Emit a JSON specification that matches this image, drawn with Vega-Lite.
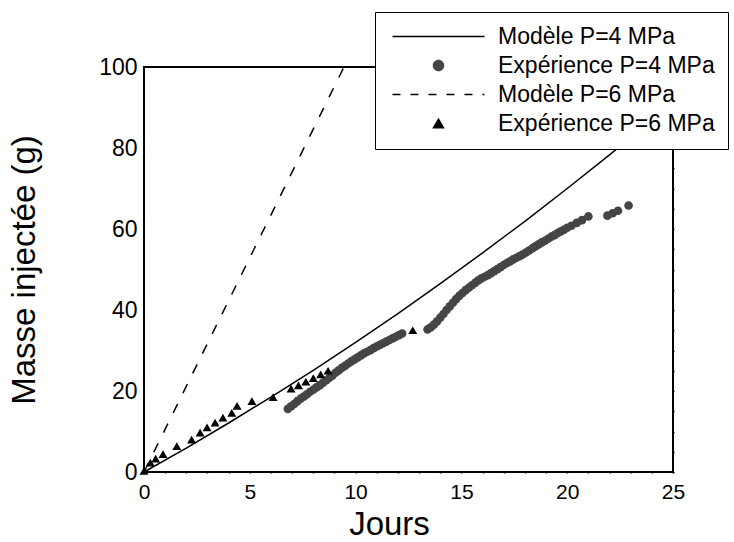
{
  "$schema": "https://vega.github.io/schema/vega-lite/v6.json",
  "width": 529,
  "height": 405,
  "autosize": {"type": "none"},
  "padding": {"left": 144, "top": 67, "right": 61, "bottom": 70},
  "background": "white",
  "config": {
    "view": {"stroke": "black", "strokeWidth": 2},
    "font": "Liberation Sans",
    "axis": {"domain": false, "grid": false, "ticks": true, "tickSize": 1, "tickColor": "black", "tickWidth": 1.5, "tickOpacity": 1, "labelColor": "black", "titleColor": "black", "titleFontWeight": "normal", "labelFont": "Liberation Sans", "titleFont": "Liberation Sans", "labelOverlap": false, "labelFlush": false}
  },
  "datasets": {
    "m4": [
      {"jours": 0, "masse": 0, "serie": "Modèle P=4 MPa"},
      {"jours": 2, "masse": 5.9, "serie": "Modèle P=4 MPa"},
      {"jours": 4, "masse": 12.1, "serie": "Modèle P=4 MPa"},
      {"jours": 6, "masse": 18.5, "serie": "Modèle P=4 MPa"},
      {"jours": 8, "masse": 25.1, "serie": "Modèle P=4 MPa"},
      {"jours": 10, "masse": 32.0, "serie": "Modèle P=4 MPa"},
      {"jours": 12, "masse": 39.1, "serie": "Modèle P=4 MPa"},
      {"jours": 14, "masse": 46.5, "serie": "Modèle P=4 MPa"},
      {"jours": 16, "masse": 54.1, "serie": "Modèle P=4 MPa"},
      {"jours": 18, "masse": 61.9, "serie": "Modèle P=4 MPa"},
      {"jours": 20, "masse": 70.0, "serie": "Modèle P=4 MPa"},
      {"jours": 22, "masse": 78.3, "serie": "Modèle P=4 MPa"},
      {"jours": 24, "masse": 86.9, "serie": "Modèle P=4 MPa"}
    ],
    "m6": [
      {"jours": 0, "masse": 0, "serie": "Modèle P=6 MPa"},
      {"jours": 9.45, "masse": 100, "serie": "Modèle P=6 MPa"}
    ],
    "e6": [
      {"jours": 0.0, "masse": 0.3, "serie": "Expérience P=6 MPa"},
      {"jours": 0.3, "masse": 2.3, "serie": "Expérience P=6 MPa"},
      {"jours": 0.55, "masse": 3.3, "serie": "Expérience P=6 MPa"},
      {"jours": 0.9, "masse": 4.4, "serie": "Expérience P=6 MPa"},
      {"jours": 1.55, "masse": 6.4, "serie": "Expérience P=6 MPa"},
      {"jours": 2.25, "masse": 8.0, "serie": "Expérience P=6 MPa"},
      {"jours": 2.65, "masse": 9.7, "serie": "Expérience P=6 MPa"},
      {"jours": 2.98, "masse": 11.0, "serie": "Expérience P=6 MPa"},
      {"jours": 3.36, "masse": 12.2, "serie": "Expérience P=6 MPa"},
      {"jours": 3.73, "masse": 13.4, "serie": "Expérience P=6 MPa"},
      {"jours": 4.15, "masse": 14.6, "serie": "Expérience P=6 MPa"},
      {"jours": 4.4, "masse": 16.3, "serie": "Expérience P=6 MPa"},
      {"jours": 5.1, "masse": 17.5, "serie": "Expérience P=6 MPa"},
      {"jours": 6.1, "masse": 18.5, "serie": "Expérience P=6 MPa"},
      {"jours": 6.95, "masse": 20.6, "serie": "Expérience P=6 MPa"},
      {"jours": 7.3, "masse": 21.4, "serie": "Expérience P=6 MPa"},
      {"jours": 7.65, "masse": 22.3, "serie": "Expérience P=6 MPa"},
      {"jours": 8.0, "masse": 23.2, "serie": "Expérience P=6 MPa"},
      {"jours": 8.35, "masse": 24.1, "serie": "Expérience P=6 MPa"},
      {"jours": 8.7, "masse": 25.0, "serie": "Expérience P=6 MPa"},
      {"jours": 12.7, "masse": 35.0, "serie": "Expérience P=6 MPa"}
    ],
    "e4": [
      {"jours": 6.8, "masse": 15.6, "serie": "Expérience P=4 MPa"},
      {"jours": 6.95, "masse": 16.2, "serie": "Expérience P=4 MPa"},
      {"jours": 7.1, "masse": 16.8, "serie": "Expérience P=4 MPa"},
      {"jours": 7.25, "masse": 17.5, "serie": "Expérience P=4 MPa"},
      {"jours": 7.4, "masse": 18.1, "serie": "Expérience P=4 MPa"},
      {"jours": 7.55, "masse": 18.6, "serie": "Expérience P=4 MPa"},
      {"jours": 7.7, "masse": 19.2, "serie": "Expérience P=4 MPa"},
      {"jours": 7.85, "masse": 19.8, "serie": "Expérience P=4 MPa"},
      {"jours": 8.0, "masse": 20.3, "serie": "Expérience P=4 MPa"},
      {"jours": 8.15, "masse": 20.9, "serie": "Expérience P=4 MPa"},
      {"jours": 8.3, "masse": 21.4, "serie": "Expérience P=4 MPa"},
      {"jours": 8.45, "masse": 22.0, "serie": "Expérience P=4 MPa"},
      {"jours": 8.6, "masse": 22.6, "serie": "Expérience P=4 MPa"},
      {"jours": 8.75, "masse": 23.2, "serie": "Expérience P=4 MPa"},
      {"jours": 8.9, "masse": 23.8, "serie": "Expérience P=4 MPa"},
      {"jours": 9.05, "masse": 24.5, "serie": "Expérience P=4 MPa"},
      {"jours": 9.2, "masse": 25.1, "serie": "Expérience P=4 MPa"},
      {"jours": 9.35, "masse": 25.7, "serie": "Expérience P=4 MPa"},
      {"jours": 9.5, "masse": 26.2, "serie": "Expérience P=4 MPa"},
      {"jours": 9.65, "masse": 26.8, "serie": "Expérience P=4 MPa"},
      {"jours": 9.8, "masse": 27.3, "serie": "Expérience P=4 MPa"},
      {"jours": 9.95, "masse": 27.8, "serie": "Expérience P=4 MPa"},
      {"jours": 10.1, "masse": 28.3, "serie": "Expérience P=4 MPa"},
      {"jours": 10.25, "masse": 28.8, "serie": "Expérience P=4 MPa"},
      {"jours": 10.4, "masse": 29.3, "serie": "Expérience P=4 MPa"},
      {"jours": 10.55, "masse": 29.7, "serie": "Expérience P=4 MPa"},
      {"jours": 10.7, "masse": 30.1, "serie": "Expérience P=4 MPa"},
      {"jours": 10.85, "masse": 30.6, "serie": "Expérience P=4 MPa"},
      {"jours": 11.0, "masse": 31.0, "serie": "Expérience P=4 MPa"},
      {"jours": 11.15, "masse": 31.4, "serie": "Expérience P=4 MPa"},
      {"jours": 11.3, "masse": 31.8, "serie": "Expérience P=4 MPa"},
      {"jours": 11.45, "masse": 32.2, "serie": "Expérience P=4 MPa"},
      {"jours": 11.6, "masse": 32.6, "serie": "Expérience P=4 MPa"},
      {"jours": 11.75, "masse": 33.0, "serie": "Expérience P=4 MPa"},
      {"jours": 11.9, "masse": 33.4, "serie": "Expérience P=4 MPa"},
      {"jours": 12.05, "masse": 33.8, "serie": "Expérience P=4 MPa"},
      {"jours": 12.2, "masse": 34.2, "serie": "Expérience P=4 MPa"},
      {"jours": 13.4, "masse": 35.2, "serie": "Expérience P=4 MPa"},
      {"jours": 13.55, "masse": 35.7, "serie": "Expérience P=4 MPa"},
      {"jours": 13.7, "masse": 36.4, "serie": "Expérience P=4 MPa"},
      {"jours": 13.85, "masse": 37.2, "serie": "Expérience P=4 MPa"},
      {"jours": 14.0, "masse": 38.1, "serie": "Expérience P=4 MPa"},
      {"jours": 14.15, "masse": 39.0, "serie": "Expérience P=4 MPa"},
      {"jours": 14.3, "masse": 40.0, "serie": "Expérience P=4 MPa"},
      {"jours": 14.45, "masse": 40.9, "serie": "Expérience P=4 MPa"},
      {"jours": 14.6, "masse": 41.8, "serie": "Expérience P=4 MPa"},
      {"jours": 14.75, "masse": 42.7, "serie": "Expérience P=4 MPa"},
      {"jours": 14.9, "masse": 43.5, "serie": "Expérience P=4 MPa"},
      {"jours": 15.05, "masse": 44.2, "serie": "Expérience P=4 MPa"},
      {"jours": 15.2, "masse": 44.9, "serie": "Expérience P=4 MPa"},
      {"jours": 15.35, "masse": 45.5, "serie": "Expérience P=4 MPa"},
      {"jours": 15.5, "masse": 46.1, "serie": "Expérience P=4 MPa"},
      {"jours": 15.65, "masse": 46.7, "serie": "Expérience P=4 MPa"},
      {"jours": 15.8, "masse": 47.3, "serie": "Expérience P=4 MPa"},
      {"jours": 15.95, "masse": 47.8, "serie": "Expérience P=4 MPa"},
      {"jours": 16.1, "masse": 48.2, "serie": "Expérience P=4 MPa"},
      {"jours": 16.25, "masse": 48.6, "serie": "Expérience P=4 MPa"},
      {"jours": 16.4, "masse": 49.1, "serie": "Expérience P=4 MPa"},
      {"jours": 16.55, "masse": 49.6, "serie": "Expérience P=4 MPa"},
      {"jours": 16.7, "masse": 50.1, "serie": "Expérience P=4 MPa"},
      {"jours": 16.85, "masse": 50.6, "serie": "Expérience P=4 MPa"},
      {"jours": 17.0, "masse": 51.1, "serie": "Expérience P=4 MPa"},
      {"jours": 17.15, "masse": 51.6, "serie": "Expérience P=4 MPa"},
      {"jours": 17.3, "masse": 52.0, "serie": "Expérience P=4 MPa"},
      {"jours": 17.45, "masse": 52.5, "serie": "Expérience P=4 MPa"},
      {"jours": 17.6, "masse": 52.9, "serie": "Expérience P=4 MPa"},
      {"jours": 17.75, "masse": 53.3, "serie": "Expérience P=4 MPa"},
      {"jours": 17.9, "masse": 53.7, "serie": "Expérience P=4 MPa"},
      {"jours": 18.05, "masse": 54.2, "serie": "Expérience P=4 MPa"},
      {"jours": 18.2, "masse": 54.7, "serie": "Expérience P=4 MPa"},
      {"jours": 18.35, "masse": 55.2, "serie": "Expérience P=4 MPa"},
      {"jours": 18.5, "masse": 55.7, "serie": "Expérience P=4 MPa"},
      {"jours": 18.65, "masse": 56.2, "serie": "Expérience P=4 MPa"},
      {"jours": 18.8, "masse": 56.7, "serie": "Expérience P=4 MPa"},
      {"jours": 18.95, "masse": 57.1, "serie": "Expérience P=4 MPa"},
      {"jours": 19.1, "masse": 57.6, "serie": "Expérience P=4 MPa"},
      {"jours": 19.25, "masse": 58.1, "serie": "Expérience P=4 MPa"},
      {"jours": 19.4, "masse": 58.5, "serie": "Expérience P=4 MPa"},
      {"jours": 19.55, "masse": 59.0, "serie": "Expérience P=4 MPa"},
      {"jours": 19.7, "masse": 59.4, "serie": "Expérience P=4 MPa"},
      {"jours": 19.85, "masse": 59.8, "serie": "Expérience P=4 MPa"},
      {"jours": 20.0, "masse": 60.3, "serie": "Expérience P=4 MPa"},
      {"jours": 20.2, "masse": 60.8, "serie": "Expérience P=4 MPa"},
      {"jours": 20.45, "masse": 61.5, "serie": "Expérience P=4 MPa"},
      {"jours": 20.7, "masse": 62.2, "serie": "Expérience P=4 MPa"},
      {"jours": 21.0, "masse": 63.1, "serie": "Expérience P=4 MPa"},
      {"jours": 21.9, "masse": 63.3, "serie": "Expérience P=4 MPa"},
      {"jours": 22.15, "masse": 63.9, "serie": "Expérience P=4 MPa"},
      {"jours": 22.4, "masse": 64.5, "serie": "Expérience P=4 MPa"},
      {"jours": 22.9, "masse": 65.8, "serie": "Expérience P=4 MPa"}
    ]
  },
  "layer": [
    {
      "data": {"name": "m4"},
      "mark": {"type": "line", "strokeWidth": 1.5},
      "encoding": {
        "x": {
          "field": "jours", "type": "quantitative",
          "scale": {"domain": [0, 25], "nice": false, "zero": false},
          "axis": {
            "orient": "bottom", "values": [0, 5, 10, 15, 20, 25],
            "labelFontSize": 21, "labelPadding": 8,
            "title": "Jours", "titleFontSize": 33, "titlePadding": 6, "titleX": 245,
            "encode": {"ticks": {"update": {"y2": {"value": -10}, "opacity": {"value": 1}, "stroke": {"value": "black"}}}}
          }
        },
        "y": {
          "field": "masse", "type": "quantitative",
          "scale": {"domain": [0, 100], "nice": false},
          "axis": {
            "orient": "left", "values": [0, 20, 40, 60, 80, 100],
            "labelFontSize": 23, "labelPadding": 6,
            "title": "Masse injectée (g)", "titleFontSize": 33, "titlePadding": 57,
            "encode": {"ticks": {"update": {"x2": {"value": 10}, "opacity": {"value": 1}, "stroke": {"value": "black"}}}}
          }
        },
        "color": {
          "field": "serie", "type": "nominal",
          "scale": {
            "domain": ["Modèle P=4 MPa", "Expérience P=4 MPa", "Modèle P=6 MPa", "Expérience P=6 MPa"],
            "range": ["black", "#454545", "black", "black"]
          },
          "legend": {
            "orient": "none", "legendX": 231, "legendY": -55,
            "title": null, "padding": 13,
            "fillColor": "white", "strokeColor": "black",
            "labelFontSize": 23, "labelLimit": 400,
            "rowPadding": 5, "symbolSize": 100, "symbolOffset": 39, "labelOffset": 48,
            "encode": {
              "symbols": {
                "update": {
                  "shape": [
                    {"test": "datum.value === 'Expérience P=4 MPa'", "value": "circle"},
                    {"test": "datum.value === 'Expérience P=6 MPa'", "value": "triangle-up"},
                    {"value": "M-9.2,0H9.2"}
                  ],
                  "fill": [
                    {"test": "datum.value === 'Expérience P=4 MPa'", "value": "#454545"},
                    {"test": "datum.value === 'Expérience P=6 MPa'", "value": "black"},
                    {"value": "transparent"}
                  ],
                  "stroke": [
                    {"test": "datum.value === 'Modèle P=4 MPa'", "value": "black"},
                    {"test": "datum.value === 'Modèle P=6 MPa'", "value": "black"},
                    {"value": "transparent"}
                  ],
                  "strokeDash": [
                    {"test": "datum.value === 'Modèle P=6 MPa'", "value": [8, 10]},
                    {"value": [1, 0]}
                  ],
                  "strokeWidth": {"value": 1.5},
                  "opacity": {"value": 1}
                }
              }
            }
          }
        }
      }
    },
    {
      "data": {"name": "m6"},
      "mark": {"type": "line", "strokeWidth": 1.5, "strokeDash": [10, 12]},
      "encoding": {
        "x": {
          "field": "jours", "type": "quantitative",
          "axis": {"orient": "bottom", "values": [1,2,3,4,6,7,8,9,11,12,13,14,16,17,18,19,21,22,23,24], "labels": false, "title": null,
            "encode": {"ticks": {"update": {"y2": {"value": -5}, "opacity": {"value": 1}, "stroke": {"value": "black"}}}}}
        },
        "y": {
          "field": "masse", "type": "quantitative",
          "axis": {"orient": "left", "values": [5,10,15,25,30,35,45,50,55,65,70,75,85,90,95], "labels": false, "title": null,
            "encode": {"ticks": {"update": {"x2": {"value": 5}, "opacity": {"value": 1}, "stroke": {"value": "black"}}}}}
        },
        "color": {"field": "serie", "type": "nominal"}
      }
    },
    {
      "data": {"name": "e4"},
      "mark": {"type": "point", "shape": "circle", "filled": true, "opacity": 1, "size": 75},
      "encoding": {
        "x": {
          "field": "jours", "type": "quantitative",
          "axis": {"orient": "top", "values": [0, 5, 10, 15, 20, 25], "labels": false, "title": null,
            "encode": {"ticks": {"update": {"y2": {"value": 10}, "opacity": {"value": 1}, "stroke": {"value": "black"}}}}}
        },
        "y": {
          "field": "masse", "type": "quantitative",
          "axis": {"orient": "right", "values": [0, 20, 40, 60, 80, 100], "labels": false, "title": null,
            "encode": {"ticks": {"update": {"x2": {"value": -10}, "opacity": {"value": 1}, "stroke": {"value": "black"}}}}}
        },
        "color": {"field": "serie", "type": "nominal"}
      }
    },
    {
      "data": {"name": "e6"},
      "mark": {"type": "point", "shape": "triangle-up", "filled": true, "opacity": 1, "size": 80},
      "encoding": {
        "x": {
          "field": "jours", "type": "quantitative",
          "axis": {"orient": "top", "values": [1,2,3,4,6,7,8,9,11,12,13,14,16,17,18,19,21,22,23,24], "labels": false, "title": null,
            "encode": {"ticks": {"update": {"y2": {"value": 5}, "opacity": {"value": 1}, "stroke": {"value": "black"}}}}}
        },
        "y": {
          "field": "masse", "type": "quantitative",
          "axis": {"orient": "right", "values": [5,10,15,25,30,35,45,50,55,65,70,75,85,90,95], "labels": false, "title": null,
            "encode": {"ticks": {"update": {"x2": {"value": -5}, "opacity": {"value": 1}, "stroke": {"value": "black"}}}}}
        },
        "color": {"field": "serie", "type": "nominal"}
      }
    }
  ],
  "resolve": {"axis": {"x": "independent", "y": "independent"}}
}
